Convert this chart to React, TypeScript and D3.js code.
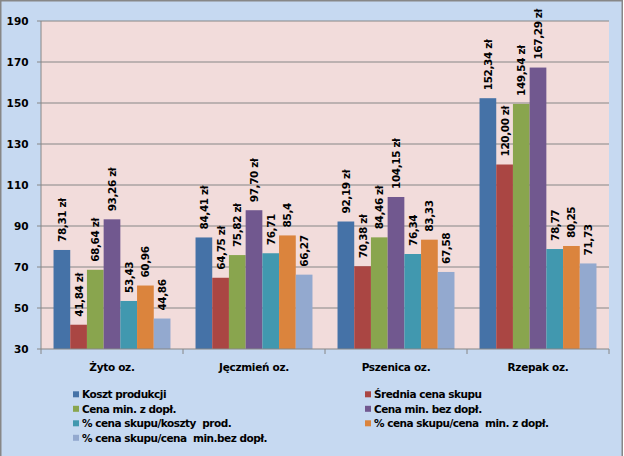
import React from "react";
import * as d3 from "d3";

const categories = ["Żyto oz.", "Jęczmień oz.", "Pszenica oz.", "Rzepak oz."];
const seriesNames = [
  "Koszt produkcji",
  "Średnia cena skupu",
  "Cena min. z dopł.",
  "Cena min. bez dopł.",
  "% cena skupu/koszty  prod.",
  "% cena skupu/cena  min. z dopł.",
  "% cena skupu/cena  min.bez dopł.",
];
const kosztProdukcji = [78.31, 84.41, 92.19, 152.34];
const sredniaCena = [41.84, 64.75, 70.38, 120.0];
const cenaMinZ = [68.64, 75.82, 84.46, 149.54];
const cenaMinBez = [93.26, 97.7, 104.15, 167.29];
const pctKoszty = [53.43, 76.71, 76.34, 78.77];
const pctMinZ = [60.96, 85.4, 83.33, 80.25];
const pctMinBez = [44.86, 66.27, 67.58, 71.73];
const seriesValues = [kosztProdukcji, sredniaCena, cenaMinZ, cenaMinBez, pctKoszty, pctMinZ, pctMinBez];
const seriesIsZl = [true, true, true, true, false, false, false];
const colors = ["#4572A7", "#AA4643", "#89A54E", "#71588F", "#4198AF", "#DB843D", "#93A9CF"];
const yTicks = [30, 50, 70, 90, 110, 130, 150, 170, 190];

const FONT = "'DejaVu Sans', Verdana, sans-serif";

function fmt(v: number, zl: boolean) {
  let s = v.toFixed(2).replace(".", ",");
  if (!zl) s = String(v).replace(".", ",");
  return zl ? s + " zł" : s;
}

export default function App() {
  const left = 41, right = 609, top = 21, bottom = 349;
  const y = d3.scaleLinear().domain([30, 190]).range([bottom, top]);
  const x0 = d3.scaleBand<string>().domain(categories).range([left, right]).paddingInner(0).paddingOuter(0);
  const x1 = d3
    .scaleBand<number>()
    .domain(d3.range(seriesNames.length))
    .range([0, x0.bandwidth()])
    .paddingInner(0)
    .paddingOuter(0.75);
  const bounds = [...categories.map((c) => x0(c)!), right];

  return (
    <div style={{ position: "absolute", left: 0, top: 0 }}>
      <svg width={624} height={456} style={{ display: "block" }} fontFamily={FONT}>
        <rect x={0} y={0} width={624} height={456} fill="#FFFFFF" />
        <rect x={0.75} y={0.75} width={621.5} height={470} fill="#C6D9F1" stroke="#878787" strokeWidth={1.5} />
        <rect x={left} y={top} width={right - left} height={bottom - top} fill="#F2DCDB" />
        {yTicks.map((t) => (
          <g key={t}>
            {t !== 30 && (
              <line x1={left} x2={right} y1={y(t)} y2={y(t)} stroke="#868686" strokeWidth={1} />
            )}
            <line x1={left - 4} x2={left} y1={y(t)} y2={y(t)} stroke="#868686" strokeWidth={1} />
            <text x={28.5} y={y(t)} textAnchor="end" dominantBaseline="central" fontSize={10.5} fontWeight="bold" fill="#000">
              {t}
            </text>
          </g>
        ))}
        {categories.map((c, ci) => (
          <g key={c}>
            {seriesValues.map((vals, si) => (
              <rect
                key={si}
                x={x0(c)! + x1(si)!}
                y={y(vals[ci])}
                width={x1.bandwidth()}
                height={y(30) - y(vals[ci])}
                fill={colors[si]}
              />
            ))}
          </g>
        ))}
        <line x1={left} x2={left} y1={top} y2={bottom} stroke="#868686" strokeWidth={1} />
        <line x1={left} x2={right} y1={bottom} y2={bottom} stroke="#868686" strokeWidth={1} />
        {bounds.map((b, i) => (
          <line key={i} x1={b} x2={b} y1={bottom} y2={bottom + 5} stroke="#868686" strokeWidth={1} />
        ))}
        {categories.map((c, ci) =>
          seriesValues.map((vals, si) => {
            const cx = x0(c)! + x1(si)! + x1.bandwidth() / 2;
            const ty = y(vals[ci]) - 8;
            return (
              <text
                key={c + si}
                transform={`translate(${cx},${ty}) rotate(-90)`}
                textAnchor="start"
                dominantBaseline="central"
                fontSize={10.5}
                fontWeight="bold"
                letterSpacing={-0.4}
                fill="#000"
              >
                {fmt(vals[ci], seriesIsZl[si])}
              </text>
            );
          })
        )}
        {categories.map((c) => (
          <text
            key={c}
            x={x0(c)! + x0.bandwidth() / 2}
            y={367}
            textAnchor="middle"
            dominantBaseline="central"
            fontSize={10.5}
            fontWeight="bold"
            letterSpacing={-0.3}
            fill="#000"
          >
            {c}
          </text>
        ))}
        {seriesNames.map((name, si) => {
          const col = si % 2;
          const row = Math.floor(si / 2);
          const lx = col === 0 ? 73 : 365;
          const ly = 394.3 + row * 14.5;
          return (
            <g key={name}>
              <rect x={lx} y={ly - 3} width={6} height={6} fill={colors[si]} />
              <text
                x={lx + 9}
                y={ly}
                dominantBaseline="central"
                fontSize={10.5}
                fontWeight="bold"
                letterSpacing={-0.5}
                fill="#000"
                style={{ whiteSpace: "pre" }}
              >
                {name}
              </text>
            </g>
          );
        })}
      </svg>
    </div>
  );
}
